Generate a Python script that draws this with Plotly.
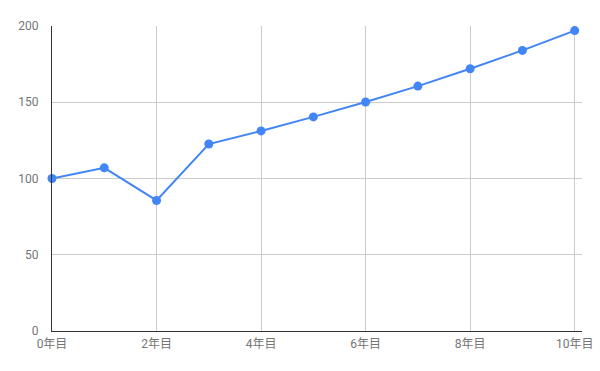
import plotly.graph_objects as go

years = [0, 1, 2, 3, 4, 5, 6, 7, 8, 9, 10]
values = [100, 107, 85.6, 122.6, 131.2, 140.4, 150.2, 160.6, 172, 184, 197]
x_tick_vals = [0, 2, 4, 6, 8, 10]
x_tick_text = ["0年目", "2年目", "4年目", "6年目", "8年目", "10年目"]
y_tick_vals = [0, 50, 100, 150, 200]

font_family = "Roboto, Noto Sans CJK JP, sans-serif"

fig = go.Figure()
fig.add_trace(go.Scatter(
    x=years, y=values, mode="lines+markers",
    line=dict(color="#4285F4", width=2),
    marker=dict(color="#4285F4", size=9),
    showlegend=False,
    cliponaxis=False,
))
fig.update_layout(
    width=600, height=371,
    margin=dict(l=52, r=18, t=26, b=40),
    paper_bgcolor="white", plot_bgcolor="white",
    font=dict(family=font_family, size=12, color="#757575"),
)
fig.update_xaxes(
    range=[0, 10.14], tickvals=x_tick_vals, ticktext=x_tick_text,
    showgrid=True, gridcolor="#cccccc", gridwidth=1,
    showline=True, linecolor="#333333", linewidth=1,
    zeroline=False, ticks="", ticklabelstandoff=2, automargin=False,
)
fig.update_yaxes(
    range=[0, 200], tickvals=y_tick_vals,
    showgrid=True, gridcolor="#cccccc", gridwidth=1,
    showline=True, linecolor="#333333", linewidth=1,
    zeroline=False, ticks="", ticklabelstandoff=10, automargin=False,
)
fig.write_html("out.html")
